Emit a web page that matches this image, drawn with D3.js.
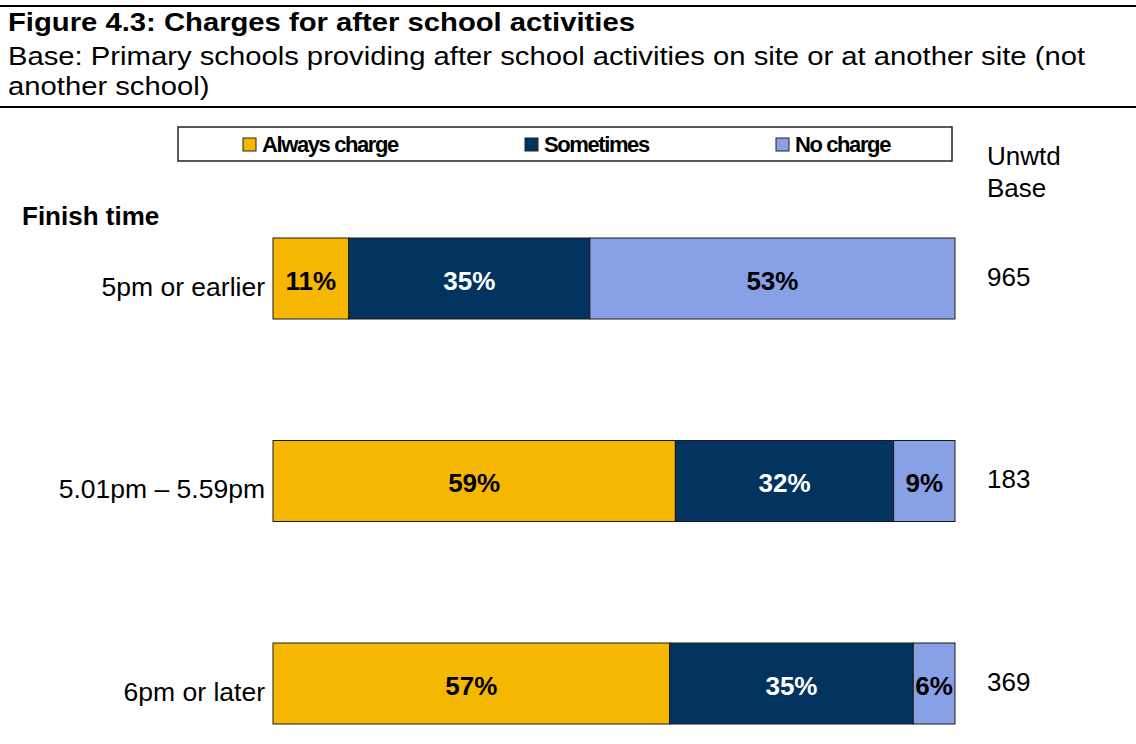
<!DOCTYPE html>
<html>
<head>
<meta charset="utf-8">
<script src="https://cdn.jsdelivr.net/npm/d3@7"></script>
<style>
  body { margin: 0; background: #fff; }
  svg { font-family: Arial, "Liberation Sans", sans-serif; }
</style>
</head>
<body>
<svg id="chart" width="1136" height="744"></svg>
<script>
// data
const categories = ["5pm or earlier", "5.01pm \u2013 5.59pm", "6pm or later"];
const seriesNames = ["Always charge", "Sometimes", "No charge"];
const alwaysCharge = [11, 59, 57];
const sometimes = [35, 32, 35];
const noCharge = [53, 9, 6];
const unwtdBase = [965, 183, 369];

const colors = ["#f6b700", "#02345f", "#88a1e6"];
const labelColors = ["#000", "#fff", "#000"];

const svg = d3.select("#chart");

// header lines and titles (header text is a bit wide in the original)
svg.append("line").attr("x1", 0).attr("x2", 1136).attr("y1", 6).attr("y2", 6)
  .attr("stroke", "#000").attr("stroke-width", 2);
svg.append("line").attr("x1", 0).attr("x2", 1136).attr("y1", 107).attr("y2", 107)
  .attr("stroke", "#000").attr("stroke-width", 2);

function headerText(y, txt, bold) {
  svg.append("text")
    .attr("transform", `translate(8, ${y}) scale(1.17, 1)`)
    .style("font-size", "25px")
    .style("font-weight", bold ? "bold" : "normal")
    .text(txt);
}
headerText(31, "Figure 4.3: Charges for after school activities", true);
headerText(65, "Base: Primary schools providing after school activities on site or at another site (not", false);
headerText(95, "another school)", false);

// legend
const legend = svg.append("g");
legend.append("rect").attr("x", 178).attr("y", 127).attr("width", 774).attr("height", 34)
  .attr("fill", "#fff").attr("stroke", "#222").attr("stroke-width", 1.5);
const legendX = [243, 525, 776];
seriesNames.forEach((name, i) => {
  legend.append("rect").attr("x", legendX[i]).attr("y", 138).attr("width", 13).attr("height", 13)
    .attr("fill", colors[i]).attr("stroke", "#222").attr("stroke-width", 1);
  legend.append("text").attr("x", legendX[i] + 19).attr("y", 152)
    .style("font-size", "22px").style("font-weight", "bold").style("letter-spacing", "-1.4px")
    .text(name);
});

svg.append("text").attr("x", 987).attr("y", 165).style("font-size", "26px").text("Unwtd");
svg.append("text").attr("x", 987).attr("y", 197).style("font-size", "26px").text("Base");
svg.append("text").attr("x", 22).attr("y", 225)
  .style("font-size", "26px").style("font-weight", "bold")
  .text("Finish time");

// scales: bars 81px high, 121.5px gaps
const yScale = d3.scaleBand()
  .domain(categories)
  .range([238, 238 + 81 * 3 + 121.5 * 2])
  .paddingInner(0.6)
  .paddingOuter(0);

const xScale = d3.scaleLinear().domain([0, 1]).range([273, 955]);

const rows = categories.map((c, i) => {
  const vals = [alwaysCharge[i], sometimes[i], noCharge[i]];
  const total = d3.sum(vals);
  let cum = 0;
  return vals.map((v, k) => {
    const seg = {cat: c, k: k, value: v, x0: cum / total, x1: (cum + v) / total};
    cum += v;
    return seg;
  });
}).flat();

const bars = svg.append("g");
bars.selectAll("rect")
  .data(rows)
  .join("rect")
  .attr("x", d => xScale(d.x0))
  .attr("y", d => yScale(d.cat))
  .attr("width", d => xScale(d.x1) - xScale(d.x0))
  .attr("height", yScale.bandwidth())
  .attr("fill", d => colors[d.k])
  .attr("stroke", "#1a1a1a")
  .attr("stroke-width", 1);

bars.selectAll("text")
  .data(rows)
  .join("text")
  .attr("x", d => (xScale(d.x0) + xScale(d.x1)) / 2)
  .attr("y", d => yScale(d.cat) + yScale.bandwidth() / 2 + 11)
  .attr("text-anchor", "middle")
  .style("font-size", "26px")
  .style("font-weight", "bold")
  .attr("fill", d => labelColors[d.k])
  .text(d => d.value + "%");

// category labels
svg.append("g").selectAll("text")
  .data(categories)
  .join("text")
  .attr("x", 265)
  .attr("y", d => yScale(d) + yScale.bandwidth() / 2 + 17)
  .attr("text-anchor", "end")
  .style("font-size", "26.5px")
  .text(d => d);

// unweighted base
svg.append("g").selectAll("text")
  .data(unwtdBase)
  .join("text")
  .attr("x", 987)
  .attr("y", (d, i) => yScale(categories[i]) + yScale.bandwidth() / 2 + 7)
  .style("font-size", "26px")
  .text(d => d);
</script>
</body>
</html>
